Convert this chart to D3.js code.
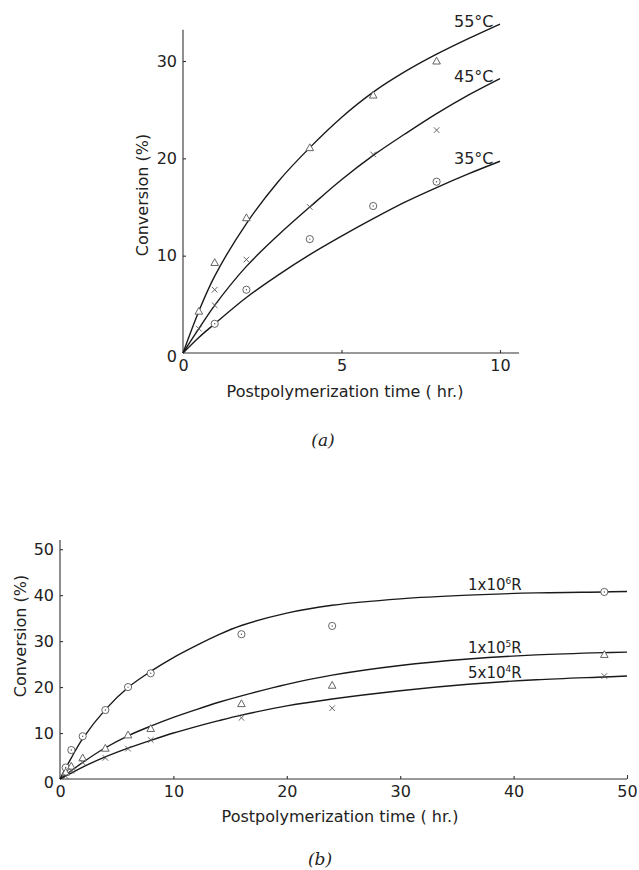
<!DOCTYPE html>
<html>
<head>
<meta charset="utf-8">
<script src="https://cdn.jsdelivr.net/npm/d3@7"></script>
<style>
  body { margin: 0; background: #fff; }
  svg { display: block; }
  text { font-family: "DejaVu Sans", sans-serif; fill: #222; }
</style>
</head>
<body>
<svg width="639" height="870"></svg>
<script>
// ---- panel (a): temperature series ----
const aXTicks = [0, 5, 10]
const aYTicks = [0, 10, 20, 30]
const aLabels = ["55°C", "45°C", "35°C"]

const a55X = [0.5, 1, 2, 4, 6, 8]
const a55Y = [4.3, 9.3, 13.9, 21.1, 26.5, 30.0]
const a45X = [0.5, 1, 1, 2, 4, 6, 8]
const a45Y = [2.5, 4.9, 6.5, 9.6, 15.0, 20.4, 22.9]
const a35X = [1, 2, 4, 6, 8]
const a35Y = [3.0, 6.5, 11.7, 15.1, 17.6]

// smooth curves drawn through the figure
const aFitX = [0, 0.5, 1, 2, 3, 4, 5, 6, 7, 8, 9, 10]
const aFit55Y = [0, 4.3, 7.9, 13.3, 17.6, 21.1, 24.2, 26.8, 28.9, 30.7, 32.3, 33.8]
const aFit45Y = [0, 2.5, 4.9, 8.9, 12.1, 15.0, 17.8, 20.3, 22.5, 24.6, 26.5, 28.2]
const aFit35Y = [0, 1.6, 3.0, 5.7, 8.0, 10.1, 12.0, 13.8, 15.5, 17.0, 18.4, 19.7]

// ---- panel (b): dose series ----
const bXTicks = [0, 10, 20, 30, 40, 50]
const bYTicks = [0, 10, 20, 30, 40, 50]

const bTime = [0.5, 1, 2, 4, 6, 8, 16, 24, 48]
const b1e6Y = [2.5, 6.3, 9.3, 15.0, 20.0, 23.0, 31.5, 33.3, 40.7]
const b1e5Y = [1.5, 2.8, 4.6, 6.7, 9.6, 11.0, 16.4, 20.4, 27.1]
const b5e4Y = [0.6, 1.8, 3.6, 4.6, 6.6, 8.5, 13.3, 15.4, 22.4]

const bFitX = [0, 1, 2, 4, 6, 8, 10, 12, 14, 16, 20, 24, 30, 36, 42, 48, 50]
const bFit1e6 = [0, 4.6, 8.8, 15.1, 19.9, 23.4, 26.4, 29.0, 31.4, 33.4, 36.1, 37.8, 39.2, 40.0, 40.5, 40.7, 40.8]
const bFit1e5 = [0, 1.8, 3.6, 6.8, 9.4, 11.5, 13.4, 15.1, 16.7, 18.1, 20.6, 22.6, 24.7, 26.1, 27.0, 27.5, 27.6]
const bFit5e4 = [0, 1.3, 2.6, 4.8, 6.7, 8.4, 10.0, 11.4, 12.7, 13.9, 15.9, 17.4, 19.2, 20.6, 21.6, 22.2, 22.4]

const svg = d3.select("svg")
const zip = (xs, ys) => xs.map((x, i) => [x, ys[i]])

function marker(g, kind, x, y) {
  const m = g.append("g").attr("transform", `translate(${x},${y})`)
    .style("fill", "none").style("stroke", "#555").style("stroke-width", 0.9)
  if (kind === "circle") {
    m.append("circle").attr("r", 3.6).style("fill", "#fff")
    m.append("circle").attr("r", 0.7).style("fill", "#555").style("stroke", "none")
  } else if (kind === "tri") {
    m.append("path").attr("d", "M0,-3.8L3.8,3L-3.8,3Z").style("fill", "#fff")
  } else {
    m.append("path").attr("d", "M-2.8,-2.8L2.8,2.8M-2.8,2.8L2.8,-2.8")
  }
}

function panel(cfg) {
  const x = d3.scaleLinear().domain([0, cfg.xMax]).range(cfg.xRange)
  const y = d3.scaleLinear().domain([0, cfg.yMax]).range(cfg.yRange)
  const g = svg.append("g")

  const xAxis = d3.axisBottom(x).tickValues(cfg.xTicks).tickSize(-3).tickPadding(7)
  const yAxis = d3.axisLeft(y).tickValues(cfg.yTicks).tickSize(-3).tickPadding(6)

  const gx = g.append("g").attr("transform", `translate(0,${cfg.yRange[0]})`).call(xAxis)
  const gy = g.append("g").attr("transform", `translate(${cfg.xRange[0]},0)`).call(yAxis)
  gx.select(".domain").attr("d", `M${x(0)},0H${x(cfg.xEnd)}`)
  gy.select(".domain").attr("d", `M0,${y(0)}V${y(cfg.yEnd)}`)
  ;[gx, gy].forEach(a => {
    a.selectAll("path, line").style("stroke", "#333").style("stroke-width", 1.1)
    a.selectAll("text").style("font-size", "16px").style("font-family", "'DejaVu Sans', sans-serif").style("fill", "#222")
  })
  gx.selectAll(".tick").filter(d => d === 0).select("line").remove()
  gy.selectAll(".tick").filter(d => d === 0).select("line").remove()
  gy.selectAll(".tick").filter(d => d === 0).select("text").attr("dy", "0.55em")
  gx.selectAll(".tick").filter(d => d === cfg.xTicks[cfg.xTicks.length - 1] && cfg.xEnd === cfg.xMax)
    .select("line").attr("y2", -4)

  const line = d3.line().x(d => x(d[0])).y(d => y(d[1])).curve(d3.curveCatmullRom.alpha(0.5))
  cfg.fits.forEach(f => {
    g.append("path").datum(f).attr("d", line)
      .style("fill", "none").style("stroke", "#1a1a1a").style("stroke-width", 1.4)
  })
  cfg.points.forEach(s => {
    s.data.forEach(d => marker(g, s.kind, x(d[0]), y(d[1])))
  })

  g.append("text").attr("transform", `translate(${cfg.yTitleX},${cfg.yTitleY}) rotate(-90)`)
    .attr("text-anchor", "middle").style("font-size", "16px").text("Conversion (%)")
  g.append("text").attr("x", cfg.xTitleX).attr("y", cfg.xTitleY)
    .attr("text-anchor", "middle").style("font-size", "16px").text("Postpolymerization time ( hr.)")
  g.append("text").attr("x", cfg.capX).attr("y", cfg.capY).attr("text-anchor", "middle")
    .style("font-family", "'DejaVu Serif', serif").style("font-style", "italic").style("font-size", "17px")
    .text(cfg.caption)
  return { g, x, y }
}

const pa = panel({
  xMax: 10, yMax: 30, xEnd: 10.6, yEnd: 33.2,
  xRange: [183, 500], yRange: [353, 61],
  xTicks: aXTicks, yTicks: aYTicks,
  fits: [zip(aFitX, aFit55Y), zip(aFitX, aFit45Y), zip(aFitX, aFit35Y)],
  points: [
    { kind: "tri", data: zip(a55X, a55Y) },
    { kind: "cross", data: zip(a45X, a45Y) },
    { kind: "circle", data: zip(a35X, a35Y) }
  ],
  yTitleX: 148, yTitleY: 195, xTitleX: 345, xTitleY: 397,
  capX: 323, capY: 446, caption: "(a)"
})

// temperature labels
const aLabelY = [33.8, 28.2, 19.7]
aLabels.forEach((t, i) => {
  pa.g.append("text").attr("x", 454).attr("y", pa.y(aLabelY[i]) + 3)
    .style("font-size", "16px").text(t)
})

const pb = panel({
  xMax: 50, yMax: 52, xEnd: 50, yEnd: 52,
  xRange: [60, 627], yRange: [779, 540],
  xTicks: bXTicks, yTicks: bYTicks,
  fits: [zip(bFitX, bFit1e6), zip(bFitX, bFit1e5), zip(bFitX, bFit5e4)],
  points: [
    { kind: "circle", data: zip(bTime, b1e6Y) },
    { kind: "tri", data: zip(bTime, b1e5Y) },
    { kind: "cross", data: zip(bTime, b5e4Y) }
  ],
  yTitleX: 26, yTitleY: 636, xTitleX: 340, xTitleY: 822,
  capX: 320, capY: 865, caption: "(b)"
})

// dose labels with superscript exponents
const bLabels = [["1x10", "6", "R", 590], ["1x10", "5", "R", 653], ["5x10", "4", "R", 678]]
bLabels.forEach(([base, exp, unit, yy]) => {
  const t = pb.g.append("text").attr("x", 468).attr("y", yy).style("font-size", "15px")
  t.append("tspan").text(base)
  t.append("tspan").attr("dy", -6).style("font-size", "9px").text(exp)
  t.append("tspan").attr("dy", 6).text(unit)
})
</script>
</body>
</html>
